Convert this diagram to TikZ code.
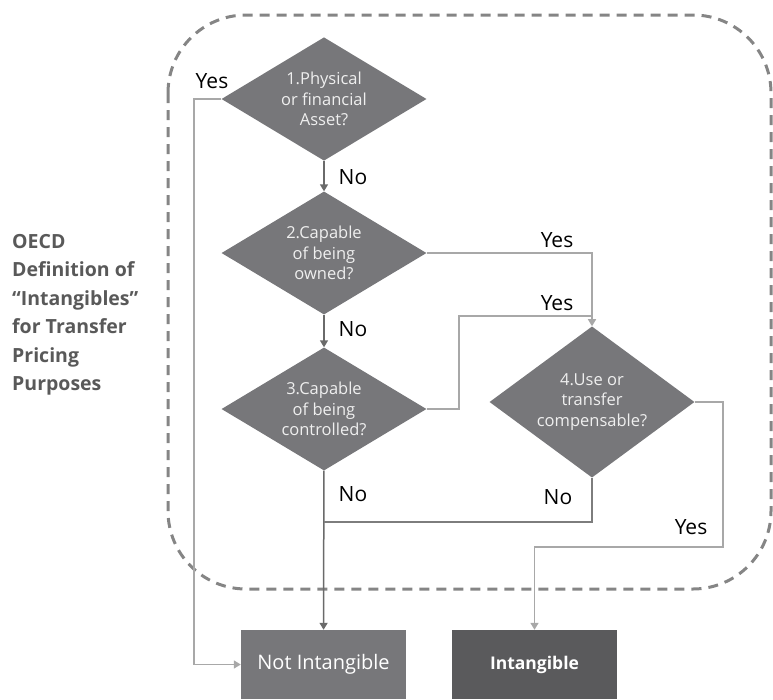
\documentclass[tikz,border=0pt]{standalone}
\usepackage{fontspec}
\setmainfont{Open Sans}
\usetikzlibrary{shapes.geometric,arrows.meta}

\definecolor{DiamondGray}{HTML}{77777A}
\definecolor{BoxDark}{HTML}{5A5A5C}
\definecolor{SpineLine}{HTML}{6A6A6A}
\definecolor{BranchLine}{HTML}{A8A8A8}
\definecolor{FrameDash}{HTML}{858585}
\definecolor{Caption}{HTML}{595959}
\definecolor{Inside}{HTML}{EFEFEF}

\begin{document}
\begin{tikzpicture}[x=1pt, y=-1pt,
  decision/.style={diamond, fill=DiamondGray, inner sep=-4pt, minimum width=205pt, minimum height=123pt,
    text=Inside, align=center, font=\fontsize{16.5}{20.5}\selectfont},
  outcome/.style={rectangle, inner sep=0pt, minimum width=165pt, minimum height=69pt, text=white,
    font=\fontsize{20}{24}\selectfont},
  answer/.style={inner sep=0pt, font=\fontsize{21}{25}\selectfont},
  spine/.style={line width=1.5pt, color=SpineLine, -{Triangle[width=8pt,length=7pt]}},
  branch/.style={line width=1.5pt, color=BranchLine}]

 \useasboundingbox (0,0) rectangle (773,699);

 %%%%%%%%%% Dashed frame %%%%%%%%%%
 \draw [dash pattern=on 10pt off 7pt, line width=3pt, color=FrameDash, rounded corners=78pt]
   (168,15) rectangle (771,589);

 %%%%%%%%%% Caption %%%%%%%%%%
 \node (caption) [anchor=north west, align=left, inner sep=0pt, text=Caption,
   font=\fontsize{19.5}{28.5}\selectfont\bfseries] at (12,234)
   {OECD\\Definition of\\“Intangibles”\\for Transfer\\Pricing\\Purposes};

 %%%%%%%%%% Questions %%%%%%%%%%
 \node (q1) [decision] at (324,99) {1.Physical\\or financial\\Asset?};
 \node (q2) [decision] at (324,253) {2.Capable\\of being\\owned?};
 \node (q3) [decision] at (324,409) {3.Capable\\of being\\controlled?};
 \node (q4) [decision] at (592,402) {4.Use or\\transfer\\compensable?};

 %%%%%%%%%% Results %%%%%%%%%%
 \node (notint) [outcome, fill=DiamondGray] at (323.5,664.5) {Not Intangible};
 \node (intang) [outcome, fill=BoxDark, font=\fontsize{17.5}{24}\selectfont\bfseries] at (534.5,664.5) {Intangible};

 %%%%%%%%%% Points pour les coudes %%%%%%%%%%
 \coordinate (yesL) at (194,99);
 \coordinate (yesC) at (459,409);
 \coordinate (yesJ) at (592,316);
 \coordinate (noJ) at (324,522);
 \coordinate (yesR) at (723,547);

 %%%%%%%%%% No path %%%%%%%%%%
 \draw [spine] (q1) -- (q2) ;
 \draw [spine] (q2) -- (q3) ;
 \draw [spine] (q3) -- (notint) ;

 %%%%%%%%%% Yes / No branches %%%%%%%%%%
 \draw [branch, -{Triangle[width=8pt,length=7pt]}] (q1.west) -- (yesL) |- (notint.west) ;
 \draw [branch, -{Triangle[width=8pt,length=7pt]}] (q2.east) -| (q4.north) ;
 \draw [branch] (q3.east) -- (yesC) |- (yesJ) ;
 \draw [branch, color=SpineLine!70!BranchLine] (q4.south) |- (noJ) ;
 \draw [branch, -{Triangle[width=8pt,length=7pt]}] (q4.east) -| (yesR) -| (intang.north) ;

 %%%%%%%%%% Labels %%%%%%%%%%
 \node (yes1) [answer] at (212,81) {Yes};
 \node (no1) [answer] at (353,177) {No};
 \node (no2) [answer] at (353,329) {No};
 \node (no3) [answer] at (353,494) {No};
 \node (yes2) [answer] at (557,240) {Yes};
 \node (yes3) [answer] at (557,303) {Yes};
 \node (no4) [answer] at (558,497) {No};
 \node (yes4) [answer] at (691,527) {Yes};

\end{tikzpicture}
\end{document}
